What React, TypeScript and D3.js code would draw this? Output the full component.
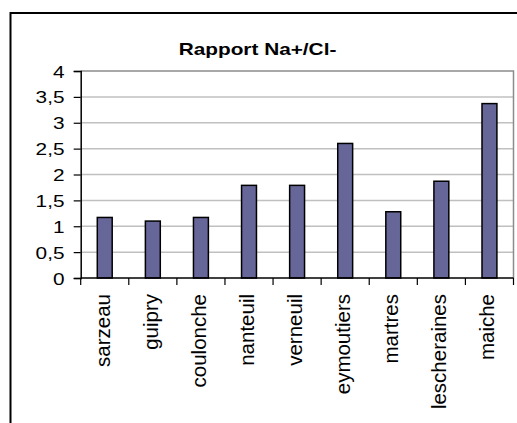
import React, { useEffect, useRef } from "react";
import * as d3 from "d3";

// sites and Na+/Cl- ratio
const sites = [
  "sarzeau",
  "guipry",
  "coulonche",
  "nanteuil",
  "verneuil",
  "eymoutiers",
  "martres",
  "lescheraines",
  "maiche",
];
const ratios = [1.17, 1.1, 1.17, 1.79, 1.79, 2.6, 1.28, 1.87, 3.37];
const yTicks = [0, 0.5, 1, 1.5, 2, 2.5, 3, 3.5, 4];
const chartTitle = "Rapport Na+/Cl-";

const W = 517;
const H = 423;
const FONT = "'Liberation Sans', Arial, sans-serif";

const App: React.FC = () => {
  const svgRef = useRef<SVGSVGElement | null>(null);

  useEffect(() => {
    if (!svgRef.current) return;
    const svg = d3.select(svgRef.current);
    svg.selectAll("*").remove();

    const plot = { left: 80.7, right: 513.5, top: 71, bottom: 278 };

    const x = d3.scaleBand<string>()
      .domain(sites)
      .range([plot.left, plot.right])
      .paddingInner(0.69)
      .paddingOuter(0.345);

    const y = d3.scaleLinear()
      .domain([0, 4])
      .range([plot.bottom, plot.top]);

    // white background + outer chart frame (runs off the right/bottom edge)
    svg.append("rect").attr("width", W).attr("height", H).attr("fill", "#fff");
    svg.append("rect")
      .attr("x", 10.5).attr("y", 13)
      .attr("width", 530).attr("height", 430)
      .attr("fill", "none")
      .attr("stroke", "#000")
      .attr("stroke-width", 2);

    // gridlines
    svg.append("g")
      .selectAll("line")
      .data(yTicks.filter(t => t > 0 && t < 4))
      .enter()
      .append("line")
      .attr("x1", plot.left).attr("x2", plot.right)
      .attr("y1", d => y(d)).attr("y2", d => y(d))
      .attr("stroke", "#c0c0c0")
      .attr("stroke-width", 1.5);

    // plot area border (top + right)
    svg.append("path")
      .attr("d", `M${plot.left},${y(4)}H${plot.right}V${plot.bottom}`)
      .attr("fill", "none")
      .attr("stroke", "#8c8c8c")
      .attr("stroke-width", 1.5);

    // bars
    svg.append("g")
      .selectAll("rect")
      .data(sites)
      .enter()
      .append("rect")
      .attr("x", d => x(d)!)
      .attr("width", x.bandwidth())
      .attr("y", (d, i) => y(ratios[i]))
      .attr("height", (d, i) => y(0) - y(ratios[i]))
      .attr("fill", "#666699")
      .attr("stroke", "#000")
      .attr("stroke-width", 1.5);

    // y axis
    const yAxis = svg.append("g")
      .attr("transform", `translate(${plot.left},0)`)
      .call(d3.axisLeft(y).tickValues(yTicks).tickSize(7).tickFormat(() => ""));
    yAxis.select(".domain").attr("stroke", "#000").attr("stroke-width", 1.5);
    yAxis.selectAll(".tick line").attr("stroke", "#000").attr("stroke-width", 1.2);

    svg.append("g")
      .selectAll("text")
      .data(yTicks)
      .enter()
      .append("text")
      .attr("transform", d => `translate(64.5,${y(d) + 6.5}) scale(1.3,1)`)
      .attr("text-anchor", "end")
      .attr("font-family", FONT)
      .attr("font-size", 16)
      .attr("fill", "#000")
      .text(d => String(d).replace(".", ","));

    // x axis: ticks on category boundaries
    const bounds = d3.range(sites.length + 1).map(i => plot.left + i * x.step());
    svg.append("line")
      .attr("x1", plot.left).attr("x2", plot.right)
      .attr("y1", plot.bottom).attr("y2", plot.bottom)
      .attr("stroke", "#000").attr("stroke-width", 1.5);
    svg.append("g")
      .selectAll("line")
      .data(bounds)
      .enter()
      .append("line")
      .attr("x1", d => d).attr("x2", d => d)
      .attr("y1", plot.bottom).attr("y2", plot.bottom + 7)
      .attr("stroke", "#000").attr("stroke-width", 1.2);

    svg.append("g")
      .selectAll("text")
      .data(sites)
      .enter()
      .append("text")
      .attr("transform", d => `translate(${x(d)! + x.bandwidth() / 2 + 5},294) rotate(-90)`)
      .attr("text-anchor", "end")
      .attr("font-family", FONT)
      .attr("font-size", 20.5)
      .attr("fill", "#000")
      .text(d => d);

    // title
    svg.append("text")
      .attr("transform", "translate(257.5,55) scale(1.3,1)")
      .attr("text-anchor", "middle")
      .attr("font-family", FONT)
      .attr("font-size", 16)
      .attr("font-weight", "bold")
      .attr("fill", "#000")
      .text(chartTitle);
  }, []);

  return (
    <svg
      ref={svgRef}
      width={W}
      height={H}
      style={{ position: "absolute", left: 0, top: 0, display: "block" }}
    />
  );
};

export default App;
